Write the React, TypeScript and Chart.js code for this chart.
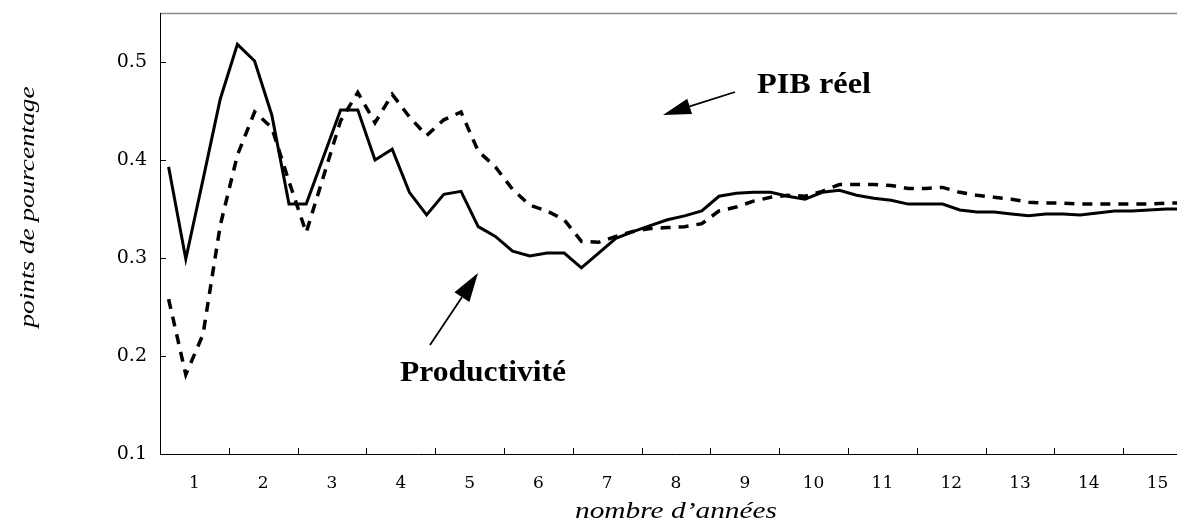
import React, { useEffect, useRef } from "react";
import { Chart, registerables } from "chart.js";

Chart.register(...registerables);

// Year tick labels (x axis), y tick values
const yearLabels = ["1", "2", "3", "4", "5", "6", "7", "8", "9", "10", "11", "12", "13", "14", "15"];
const yTickValues = [0.1, 0.2, 0.3, 0.4, 0.5];
const quartersPerYear = 4;

// Quarterly responses (points de pourcentage)
const productivite = [
  0.393, 0.299, 0.380, 0.462, 0.518, 0.501, 0.446, 0.355, 0.355, 0.403,
  0.451, 0.451, 0.400, 0.411, 0.367, 0.344, 0.365, 0.368, 0.332, 0.322,
  0.307, 0.302, 0.305, 0.305, 0.290, 0.305, 0.320, 0.327, 0.333, 0.339,
  0.343, 0.348, 0.363, 0.366, 0.367, 0.367, 0.363, 0.360, 0.367, 0.369,
  0.364, 0.361, 0.359, 0.355, 0.355, 0.355, 0.349, 0.347, 0.347, 0.345,
  0.343, 0.345, 0.345, 0.344, 0.346, 0.348, 0.348, 0.349, 0.350, 0.350,
];

const pibReel = [
  0.258, 0.181, 0.222, 0.333, 0.405, 0.449, 0.433, 0.378, 0.326, 0.383,
  0.440, 0.469, 0.438, 0.467, 0.444, 0.425, 0.441, 0.449, 0.409, 0.393,
  0.370, 0.354, 0.348, 0.339, 0.317, 0.316, 0.322, 0.327, 0.330, 0.331,
  0.332, 0.335, 0.348, 0.352, 0.358, 0.362, 0.364, 0.363, 0.368, 0.375,
  0.375, 0.375, 0.374, 0.371, 0.371, 0.372, 0.367, 0.364, 0.362, 0.360,
  0.357, 0.356, 0.356, 0.355, 0.355, 0.355, 0.355, 0.355, 0.356, 0.356,
];

const xTitle = "nombre d\u2019années";
const yTitle = "points de pourcentage";
const labelPIB = "PIB réel";
const labelProd = "Productivité";

function drawStretched(
  ctx: CanvasRenderingContext2D,
  text: string,
  x: number,
  y: number,
  font: string,
  targetWidth: number,
  align: "left" | "center",
  baseline: CanvasTextBaseline
) {
  ctx.save();
  ctx.font = font;
  const w = ctx.measureText(text).width;
  const s = targetWidth / w;
  ctx.translate(x, y);
  ctx.scale(s, 1);
  ctx.textAlign = align;
  ctx.textBaseline = baseline;
  ctx.fillStyle = "#000";
  ctx.fillText(text, 0, 0);
  ctx.restore();
}

function drawArrow(
  ctx: CanvasRenderingContext2D,
  x1: number,
  y1: number,
  x2: number,
  y2: number,
  headLen: number,
  headHalf: number
) {
  const ang = Math.atan2(y2 - y1, x2 - x1);
  const c = Math.cos(ang);
  const s = Math.sin(ang);
  const bx = x2 - headLen * c;
  const by = y2 - headLen * s;
  ctx.save();
  ctx.strokeStyle = "#000";
  ctx.fillStyle = "#000";
  ctx.lineWidth = 1.8;
  ctx.beginPath();
  ctx.moveTo(x1, y1);
  ctx.lineTo(bx, by);
  ctx.stroke();
  ctx.beginPath();
  ctx.moveTo(x2, y2);
  ctx.lineTo(bx + headHalf * s, by - headHalf * c);
  ctx.lineTo(bx - headHalf * s, by + headHalf * c);
  ctx.closePath();
  ctx.fill();
  ctx.restore();
}

const decorPlugin = {
  id: "decor",
  afterDraw(chart: any) {
    const ctx: CanvasRenderingContext2D = chart.ctx;
    const { left, right, top, bottom } = chart.chartArea;
    const xs = chart.scales.x;
    const ys = chart.scales.y;
    ctx.save();
    // top frame line (grey)
    ctx.lineWidth = 1.5;
    ctx.strokeStyle = "#8a8a8a";
    ctx.beginPath();
    ctx.moveTo(left, top + 0.5);
    ctx.lineTo(right, top + 0.5);
    ctx.stroke();
    // left and bottom axes
    ctx.lineWidth = 1;
    ctx.strokeStyle = "#000";
    ctx.beginPath();
    ctx.moveTo(left + 0.5, top);
    ctx.lineTo(left + 0.5, bottom + 0.5);
    ctx.lineTo(right, bottom + 0.5);
    ctx.stroke();
    // inner tick marks
    ctx.beginPath();
    for (let i = 1; i < yearLabels.length; i++) {
      const px = Math.round(xs.getPixelForValue(i)) + 0.5;
      ctx.moveTo(px, bottom);
      ctx.lineTo(px, bottom - 6);
    }
    for (const v of yTickValues) {
      const py = Math.round(ys.getPixelForValue(v)) + 0.5;
      ctx.moveTo(left, py);
      ctx.lineTo(left + 6, py);
    }
    ctx.stroke();
    ctx.restore();

    // axis titles
    drawStretched(ctx, xTitle, xs.getPixelForValue(7.5), 518, 'italic 23px "Liberation Serif"', 202, "center", "alphabetic");
    ctx.save();
    ctx.translate(28, 207);
    ctx.rotate(-Math.PI / 2);
    drawStretched(ctx, yTitle, 0, 0, 'italic 21px "Liberation Serif"', 241, "center", "middle");
    ctx.restore();

    // annotations
    drawStretched(ctx, labelPIB, 757, 92.5, 'bold 30px "Liberation Serif"', 114, "left", "alphabetic");
    drawArrow(ctx, 735, 92, 663, 115, 28, 8);
    drawStretched(ctx, labelProd, 400, 381, 'bold 30px "Liberation Serif"', 166, "left", "alphabetic");
    drawArrow(ctx, 430, 345, 478, 273, 29, 9);
  },
};

export default function App() {
  const ref = useRef<HTMLCanvasElement>(null);

  useEffect(() => {
    if (!ref.current) return;
    const toPoints = (arr: number[]) =>
      arr.map((v, i) => ({ x: (i + 0.5) / quartersPerYear, y: v }));

    const chart = new Chart(ref.current, {
      type: "line",
      data: {
        datasets: [
          {
            label: labelProd,
            data: toPoints(productivite),
            borderColor: "#000",
            borderWidth: 3,
            pointRadius: 0,
            fill: false,
            tension: 0,
          },
          {
            label: labelPIB,
            data: toPoints(pibReel),
            borderColor: "#000",
            borderWidth: 3.5,
            borderDash: [10, 8],
            pointRadius: 0,
            fill: false,
            tension: 0,
          },
        ],
      },
      options: {
        responsive: false,
        animation: false,
        devicePixelRatio: 1,
        layout: { padding: { top: 13, right: 8, left: 0, bottom: 0 } },
        plugins: {
          legend: { display: false },
          tooltip: { enabled: false },
        },
        scales: {
          x: {
            type: "linear",
            min: 0,
            max: yearLabels.length,
            grid: { display: false, drawTicks: false },
            border: { display: false },
            afterBuildTicks: (s: any) => {
              s.ticks = yearLabels.map((_, i) => ({ value: i + 0.5 }));
            },
            afterFit: (s: any) => {
              s.height = 71;
              s.paddingLeft = 0;
              s.paddingRight = 0;
              s.paddingTop = 0;
              s.paddingBottom = 0;
            },
            ticks: {
              autoSkip: false,
              maxRotation: 0,
              padding: 19,
              color: "#000",
              font: { family: '"DejaVu Serif"', size: 17 },
              callback: (_v: any, i: number) => yearLabels[i],
            },
          },
          y: {
            type: "linear",
            min: 0.1,
            max: 0.55,
            grid: { display: false, drawTicks: false },
            border: { display: false },
            afterBuildTicks: (s: any) => {
              s.ticks = yTickValues.map((v) => ({ value: v }));
            },
            afterFit: (s: any) => {
              s.width = 160;
              s.paddingLeft = 0;
              s.paddingRight = 0;
              s.paddingTop = 0;
              s.paddingBottom = 0;
            },
            ticks: {
              padding: 13,
              color: "#000",
              font: { family: '"DejaVu Serif"', size: 19 },
              callback: (v: any) => Number(v).toFixed(1),
            },
          },
        },
      },
      plugins: [decorPlugin],
    } as any);

    return () => chart.destroy();
  }, []);

  return (
    <div
      style={{
        position: "absolute",
        left: 0,
        top: 0,
        width: 1177,
        height: 525,
        overflow: "hidden",
        background: "#fff",
      }}
    >
      <canvas ref={ref} width={1200} height={525} style={{ display: "block" }} />
    </div>
  );
}
